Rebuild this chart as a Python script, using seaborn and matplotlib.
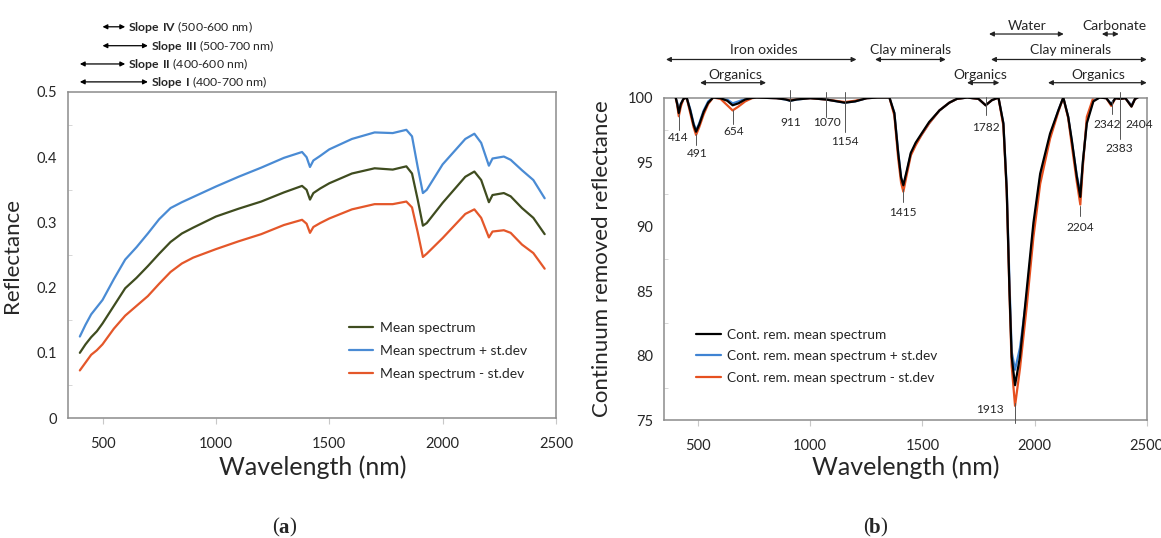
import numpy as np
import pandas as pd
import matplotlib
matplotlib.use("Agg")
import matplotlib.pyplot as plt
import seaborn as sns
from matplotlib.transforms import blended_transform_factory

# ---------------- data: panel (a) ----------------
wl_a = [400, 425, 450, 475, 500, 550, 600, 650, 700, 750, 800, 850, 900, 1000, 1100,
        1200, 1300, 1380, 1400, 1415, 1430, 1460, 1500, 1600, 1700, 1780, 1840, 1865,
        1890, 1913, 1930, 2000, 2100, 2140, 2170, 2204, 2220, 2270, 2300, 2350, 2400, 2450]
mean_a = [0.100, 0.113, 0.124, 0.133, 0.145, 0.172, 0.199, 0.215, 0.233, 0.252, 0.270,
          0.283, 0.292, 0.309, 0.321, 0.332, 0.346, 0.356, 0.350, 0.335, 0.345, 0.352,
          0.360, 0.375, 0.383, 0.381, 0.386, 0.375, 0.335, 0.295, 0.299, 0.330, 0.370,
          0.378, 0.365, 0.331, 0.342, 0.345, 0.340, 0.322, 0.307, 0.282]
plus_a = [0.125, 0.143, 0.159, 0.170, 0.181, 0.213, 0.243, 0.262, 0.283, 0.305, 0.322,
          0.331, 0.339, 0.355, 0.370, 0.384, 0.399, 0.408, 0.400, 0.385, 0.395, 0.402,
          0.412, 0.428, 0.438, 0.437, 0.442, 0.432, 0.385, 0.345, 0.350, 0.389, 0.428,
          0.436, 0.422, 0.387, 0.398, 0.401, 0.396, 0.380, 0.365, 0.337]
minus_a = [0.073, 0.085, 0.097, 0.104, 0.113, 0.137, 0.157, 0.172, 0.187, 0.206, 0.224,
           0.237, 0.246, 0.259, 0.271, 0.282, 0.296, 0.304, 0.298, 0.284, 0.293, 0.299,
           0.306, 0.320, 0.328, 0.328, 0.332, 0.323, 0.285, 0.247, 0.252, 0.276, 0.313,
           0.320, 0.307, 0.277, 0.286, 0.288, 0.284, 0.266, 0.253, 0.229]
series_a = ["Mean spectrum", "Mean spectrum + st.dev", "Mean spectrum - st.dev"]
colors_a = ["#3f4c1f", "#4a8bd4", "#e4572a"]

slope_names = ["Slope IV", "Slope III", "Slope II", "Slope I"]
slope_ranges = [(500, 600), (500, 700), (400, 600), (400, 700)]

# ---------------- data: panel (b) ----------------
wl_b = [400, 407, 414, 423, 435, 449, 465, 480, 491, 505, 525, 545, 567, 600, 630, 654,
        680, 710, 740, 761, 850, 890, 911, 940, 1000, 1070, 1154, 1200, 1252, 1300, 1353,
        1375, 1392, 1405, 1415, 1430, 1448, 1470, 1496, 1530, 1576, 1620, 1654, 1700,
        1750, 1782, 1810, 1839, 1861, 1876, 1888, 1898, 1913, 1935, 1965, 1995, 2025,
        2069, 2106, 2128, 2150, 2166, 2188, 2204, 2215, 2233, 2262, 2290, 2320, 2342,
        2360, 2383, 2405, 2432, 2448, 2460]
black_b = [100.0, 99.5, 98.8, 99.5, 99.9, 100.0, 99.0, 97.9, 97.35, 97.9, 98.9, 99.6,
           100.0, 99.95, 99.75, 99.4, 99.55, 99.85, 99.97, 100.0, 99.95, 99.85, 99.75,
           99.85, 99.95, 99.85, 99.6, 99.7, 99.95, 100.0, 100.0, 98.8, 95.7, 93.8, 93.2,
           94.3, 95.7, 96.5, 97.2, 98.1, 99.0, 99.6, 99.9, 100.0, 99.9, 99.4, 99.8, 100.0,
           98.0, 92.8, 85.1, 79.9, 77.7, 79.9, 85.1, 90.3, 94.1, 97.2, 99.0, 100.0, 98.5,
           96.7, 93.9, 92.3, 95.0, 98.0, 99.7, 100.0, 99.95, 99.45, 99.95, 99.9, 99.95,
           99.3, 99.9, 100.0]
blue_b = [100.0, 99.6, 98.9, 99.5, 99.9, 100.0, 99.1, 98.0, 97.45, 98.0, 99.0, 99.7,
          100.0, 99.97, 99.85, 99.55, 99.7, 99.9, 99.98, 100.0, 99.95, 99.85, 99.75,
          99.85, 99.95, 99.85, 99.6, 99.7, 99.95, 100.0, 100.0, 98.8, 95.8, 93.8, 93.1,
          94.2, 95.6, 96.4, 97.1, 98.0, 99.0, 99.6, 99.9, 100.0, 99.9, 99.4, 99.8, 100.0,
          98.0, 93.0, 85.8, 80.3, 78.9, 80.6, 84.6, 89.8, 93.8, 97.0, 99.0, 100.0, 98.5,
          96.6, 94.0, 92.6, 94.8, 98.2, 99.8, 100.0, 99.95, 99.5, 99.95, 99.9, 99.95,
          99.4, 99.9, 100.0]
red_b = [100.0, 99.4, 98.55, 99.3, 99.9, 100.0, 98.8, 97.7, 97.1, 97.7, 98.7, 99.5,
         100.0, 99.9, 99.4, 99.0, 99.3, 99.7, 99.95, 100.0, 99.95, 99.9, 99.8, 99.9,
         99.95, 99.85, 99.65, 99.75, 99.95, 100.0, 100.0, 98.6, 95.3, 93.4, 92.7, 94.0,
         95.5, 96.3, 97.1, 98.0, 99.0, 99.6, 99.9, 100.0, 99.9, 99.4, 99.8, 100.0, 97.8,
         92.6, 84.9, 79.2, 76.1, 79.0, 83.8, 89.2, 93.3, 96.8, 98.9, 100.0, 98.4, 96.3,
         93.5, 91.7, 94.6, 98.5, 100.0, 100.0, 99.95, 99.35, 99.95, 99.9, 99.95, 99.3,
         99.9, 100.0]
series_b = ["Cont. rem. mean spectrum", "Cont. rem. mean spectrum + st.dev",
            "Cont. rem. mean spectrum - st.dev"]
colors_b = ["#000000", "#3f83d3", "#e6501f"]

peak_labels = [414, 491, 654, 911, 1070, 1154, 1415, 1782, 1913, 2204, 2342, 2383, 2404]
# layout only: (leader x, label x, label y, leader top, leader bottom)
peak_layout = [(414, 411, 96.9, 98.7, 97.5), (491, 495, 95.7, 97.2, 96.35),
               (654, 660, 97.35, 99.0, 97.95), (911, 913, 98.1, 100.6, 99.05),
               (1070, 1075, 98.1, 100.45, 98.5), (1154, 1155, 96.6, 100.4, 97.35),
               (1415, 1415, 91.1, 92.9, 91.9), (1782, 1784, 97.7, 100.05, 98.65),
               (1913, 1802, 75.8, 76.3, 74.8), (2204, 2204, 89.9, 91.6, 90.8),
               (2345, 2322, 97.9, 99.8, 98.7), (2383, 2379, 96.05, 100.45, 96.8),
               (2432, 2466, 97.9, 99.3, 99.3)]

bands = ["Water", "Carbonate", "Iron oxides", "Clay minerals", "Clay minerals",
         "Organics", "Organics", "Organics"]
band_ranges = [(1797, 2130), (2300, 2375), (357, 1206), (1289, 1604), (1806, 2500),
               (509, 803), (1699, 1843), (2060, 2500)]
band_text_x = [1966, 2354, 792, 1445, 2161, 665, 1759, 2283]
band_rows = [0, 0, 1, 1, 1, 2, 2, 2]

# ---------------- style ----------------
sns.set_theme(style="white")
plt.rcParams["font.family"] = ["Lato", "DejaVu Sans"]
plt.rcParams["mathtext.fontset"] = "custom"
plt.rcParams["mathtext.rm"] = "Lato"
plt.rcParams["mathtext.bf"] = "Lato:bold"

fig = plt.figure(figsize=(11.61, 5.38), dpi=100)
axa = fig.add_axes([0.0590, 0.2230, 0.4199, 0.6060])
axb = fig.add_axes([0.5723, 0.2193, 0.4154, 0.5994])

spine_col = "#8c8c8c"

# ---------------- panel (a) ----------------
df_a = pd.concat([pd.DataFrame({"wl": wl_a, "val": v, "series": s})
                  for v, s in zip([mean_a, plus_a, minus_a], series_a)])
sns.lineplot(data=df_a, x="wl", y="val", hue="series", hue_order=series_a,
             palette=dict(zip(series_a, colors_a)), ax=axa, linewidth=1.6,
             estimator=None, sort=False)
h, l = axa.get_legend_handles_labels()
axa.legend(h, l, loc="upper left", bbox_to_anchor=(349 / 1161, 1 - 322 / 538),
           bbox_transform=fig.transFigure, frameon=False, fontsize=10,
           handlelength=1.7, handletextpad=0.5, labelspacing=0.8,
           borderpad=0, borderaxespad=0)
axa.set_xlim(350, 2500)
axa.set_ylim(0, 0.5)
axa.set_xticks([500, 1000, 1500, 2000, 2500])
axa.set_yticks([0, 0.1, 0.2, 0.3, 0.4, 0.5])
axa.set_yticklabels(["0", "0.1", "0.2", "0.3", "0.4", "0.5"])
axa.set_yticks(np.arange(0.05, 0.5, 0.1), minor=True)
axa.set_xlabel("Wavelength (nm)", fontsize=18)
axa.set_ylabel("Reflectance", fontsize=16)
axa.xaxis.set_label_coords(0.5, -0.116)
axa.yaxis.set_label_coords(-0.096, 0.5)

trans_a = blended_transform_factory(axa.transData, axa.transAxes)
slope_y = [1.200, 1.142, 1.086, 1.031]
for name, (x0, x1), yy in zip(slope_names, slope_ranges, slope_y):
    axa.annotate("", xy=(x1, yy), xytext=(x0, yy), xycoords=trans_a, textcoords=trans_a,
                 arrowprops=dict(arrowstyle="<|-|>", color="black", lw=0.9,
                                 mutation_scale=7, shrinkA=0, shrinkB=0),
                 annotation_clip=False)
    label = r"$\mathbf{" + name.replace(" ", r"\ ") + "}$" + f" ({x0}-{x1} nm)"
    axa.text(x1 + 14, yy, label, transform=trans_a, ha="left", va="center",
             fontsize=8.8, clip_on=False)

# ---------------- panel (b) ----------------
df_b = pd.concat([pd.DataFrame({"wl": wl_b, "val": v, "series": s})
                  for v, s in zip([black_b, blue_b, red_b], series_b)])
sns.lineplot(data=df_b, x="wl", y="val", hue="series", hue_order=series_b,
             palette=dict(zip(series_b, colors_b)), ax=axb, linewidth=1.6,
             estimator=None, sort=False)
for ln in axb.lines:
    if matplotlib.colors.to_hex(ln.get_color()) == "#000000":
        ln.set_zorder(3)
h, l = axb.get_legend_handles_labels()
axb.legend(h, l, loc="upper left", bbox_to_anchor=(696 / 1161, 1 - 329 / 538),
           bbox_transform=fig.transFigure, frameon=False, fontsize=9.8,
           handlelength=1.8, handletextpad=0.45, labelspacing=0.68,
           borderpad=0, borderaxespad=0)
axb.set_xlim(350, 2500)
axb.set_ylim(75, 100)
axb.set_xticks([500, 1000, 1500, 2000, 2500])
axb.set_yticks([75, 80, 85, 90, 95, 100])
axb.set_yticks(np.arange(77.5, 100, 5), minor=True)
axb.set_xlabel("Wavelength (nm)", fontsize=18)
axb.set_ylabel("Continuum removed reflectance", fontsize=16)
axb.xaxis.set_label_coords(0.5, -0.111)
axb.yaxis.set_label_coords(-0.109, 0.5)

for lab, (lx, tx, ty, l0, l1) in zip(peak_labels, peak_layout):
    if l0 != l1:
        axb.plot([lx, lx], [l0, l1], color="#555555", lw=0.7, clip_on=False, zorder=4)
    axb.text(tx, ty, str(lab), ha="center", va="center", fontsize=8.6, zorder=5,
             clip_on=False)

trans_b = blended_transform_factory(axb.transData, axb.transAxes)
row_arrow_y = [1.197, 1.118, 1.046]
row_text_y = [1.223, 1.148, 1.071]
for name, (x0, x1), tx, r in zip(bands, band_ranges, band_text_x, band_rows):
    axb.annotate("", xy=(x1, row_arrow_y[r]), xytext=(x0, row_arrow_y[r]),
                 xycoords=trans_b, textcoords=trans_b,
                 arrowprops=dict(arrowstyle="<|-|>", color="#222222", lw=0.9,
                                 mutation_scale=7, shrinkA=0, shrinkB=0),
                 annotation_clip=False)
    axb.text(tx, row_text_y[r], name, transform=trans_b, ha="center", va="center",
             fontsize=10, clip_on=False)

# ---------------- common axis styling ----------------
for ax in (axa, axb):
    for sp in ax.spines.values():
        sp.set_color(spine_col)
        sp.set_linewidth(1.1)
    ax.tick_params(axis="x", which="major", labelsize=10.5, color="#c8c8c8",
                   length=4, width=0.8, direction="out", pad=10, bottom=True)
    ax.tick_params(axis="y", which="major", labelsize=10.5, length=0, pad=8)
    ax.tick_params(axis="y", which="minor", left=True, length=3, width=0.6,
                   color="#d0d0d0", direction="in")

# captions
for cx, letter in [(284, "a"), (875, "b")]:
    fy = 0.018
    fig.text((cx - 5) / 1161, fy, "(", ha="right", va="center", fontsize=15,
             family="Liberation Serif")
    fig.text(cx / 1161, fy, letter, ha="center", va="center", fontsize=15,
             weight="bold", family="Liberation Serif")
    fig.text((cx + 5) / 1161, fy, ")", ha="left", va="center", fontsize=15,
             family="Liberation Serif")

fig.savefig("out.png", dpi=100)
